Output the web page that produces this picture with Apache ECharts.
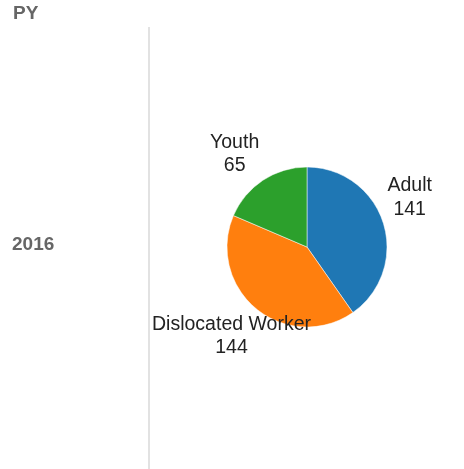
<!DOCTYPE html>
<html>
<head>
<meta charset="utf-8">
<script src="https://cdn.jsdelivr.net/npm/echarts@6/dist/echarts.min.js"></script>
<style>
html,body{margin:0;padding:0;background:#fff;}
#chart{width:464px;height:469px;}
</style>
</head>
<body>
<div id="chart"></div>
<script>
const categories = ['Adult', 'Dislocated Worker', 'Youth'];
const values = [141, 144, 65];
const colors = ['#1f77b4', '#ff7f0e', '#2ca02c'];
const rowHeader = 'PY';
const rowLabel = '2016';

const chart = echarts.init(document.getElementById('chart'), null, {renderer: 'canvas'});
const labelShift = [[-12, -15], [2, 0], [-4, 3]];
chart.setOption({
  animation: false,
  backgroundColor: '#fff',
  graphic: [
    {type: 'text', left: 13, top: 4, style: {text: rowHeader, font: 'bold 19px "Liberation Sans", Arial, sans-serif', fill: '#666'}},
    {type: 'text', left: 12, top: 235, style: {text: rowLabel, font: 'bold 19px "Liberation Sans", Arial, sans-serif', fill: '#666'}},
    {type: 'line', shape: {x1: 149, y1: 27, x2: 149, y2: 469}, style: {stroke: '#d9d9d9', lineWidth: 1.5}}
  ],
  series: [{
    type: 'pie',
    center: [307, 247],
    radius: [0, 80],
    startAngle: 90,
    clockwise: true,
    avoidLabelOverlap: false,
    itemStyle: {borderColor: '#fff', borderWidth: 0.5},
    label: {
      show: true,
      position: 'outside',
      formatter: '{b}\n{c}',
      fontFamily: '"Liberation Sans", Arial, sans-serif',
      fontSize: 19.5,
      lineHeight: 23.5,
      color: '#222'
    },
    labelLine: {show: false, length: 35, length2: 0},
    labelLayout: function (p) {
      const s = labelShift[p.dataIndex] || [0, 0];
      return {align: 'center', verticalAlign: 'middle', dx: s[0], dy: s[1], hideOverlap: false};
    },
    data: categories.map((c, i) => ({name: c, value: values[i], itemStyle: {color: colors[i]}}))
  }]
});
</script>
</body>
</html>
